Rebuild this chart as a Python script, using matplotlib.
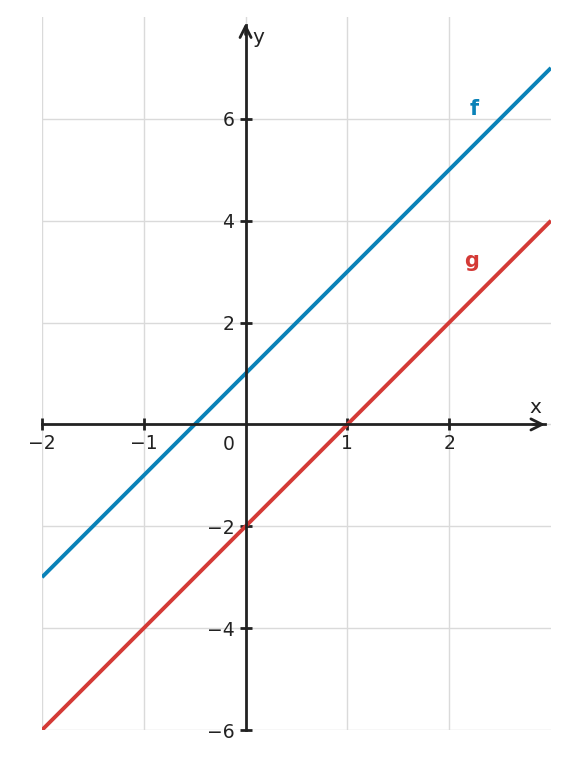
import matplotlib
matplotlib.use("Agg")
import matplotlib.pyplot as plt

# data
x_pts = [-2, 3]
f_vals = [-3, 7]
g_vals = [-6, 4]
x_ticks = [-2, -1, 1, 2]
y_ticks = [-6, -4, -2, 2, 4, 6]
x_grid = [-2, -1, 0, 1, 2]
y_grid = [-6, -4, -2, 0, 2, 4, 6]

blue = "#0a82b8"
red = "#d43a36"
dark = "#222222"

fig = plt.figure(figsize=(5.68, 7.58), dpi=100)
ax = fig.add_axes([0.0739, 0.0369, 0.8961, 0.9407])
ax.set_xlim(-2, 3)
ax.set_ylim(-6, 8)

for xv in x_grid:
    ax.axvline(xv, color="#dadada", lw=1.0, zorder=0)
for yv in y_grid:
    ax.axhline(yv, color="#dadada", lw=1.0, zorder=0)

ax.plot(x_pts, f_vals, color=blue, lw=2.8, solid_capstyle="butt", zorder=3)
ax.plot(x_pts, g_vals, color=red, lw=2.8, solid_capstyle="butt", zorder=3)

for s in ["top", "right"]:
    ax.spines[s].set_visible(False)
ax.spines["left"].set_position(("data", 0))
ax.spines["bottom"].set_position(("data", 0))
ax.spines["left"].set_bounds(-6, 7.85)
ax.spines["bottom"].set_bounds(-2, 2.94)
for s in ["left", "bottom"]:
    ax.spines[s].set_color(dark)
    ax.spines[s].set_linewidth(2)
    ax.spines[s].set_zorder(4)

ax.annotate("", xy=(2.97, 0), xytext=(2.8, 0),
            arrowprops=dict(arrowstyle="->", color=dark, lw=2, mutation_scale=20), zorder=5)
ax.annotate("", xy=(0, 7.93), xytext=(0, 7.6),
            arrowprops=dict(arrowstyle="->", color=dark, lw=2, mutation_scale=20), zorder=5)

ax.set_xticks(x_ticks)
ax.set_yticks(y_ticks)
ax.set_xticklabels(["\u2212" + str(-t) if t < 0 else str(t) for t in x_ticks])
ax.set_yticklabels(["\u2212" + str(-t) if t < 0 else str(t) for t in y_ticks])
ax.tick_params(axis="both", direction="inout", length=8, width=2, color=dark,
               labelsize=13.5, labelcolor=dark)
ax.tick_params(axis="x", pad=3)
ax.tick_params(axis="y", pad=4)

ax.text(-0.17, -0.2, "0", fontsize=13.5, color=dark, ha="center", va="top")
ax.text(2.85, 0.15, "x", fontsize=14.5, color=dark, ha="center", va="bottom")
ax.text(0.07, 7.6, "y", fontsize=14.5, color=dark, ha="left", va="center")
ax.text(2.25, 6.2, "f", fontsize=15, color=blue, fontweight="bold", ha="center", va="center")
ax.text(2.22, 3.2, "g", fontsize=15, color=red, fontweight="bold", ha="center", va="center")

fig.savefig("out.png", dpi=100)
